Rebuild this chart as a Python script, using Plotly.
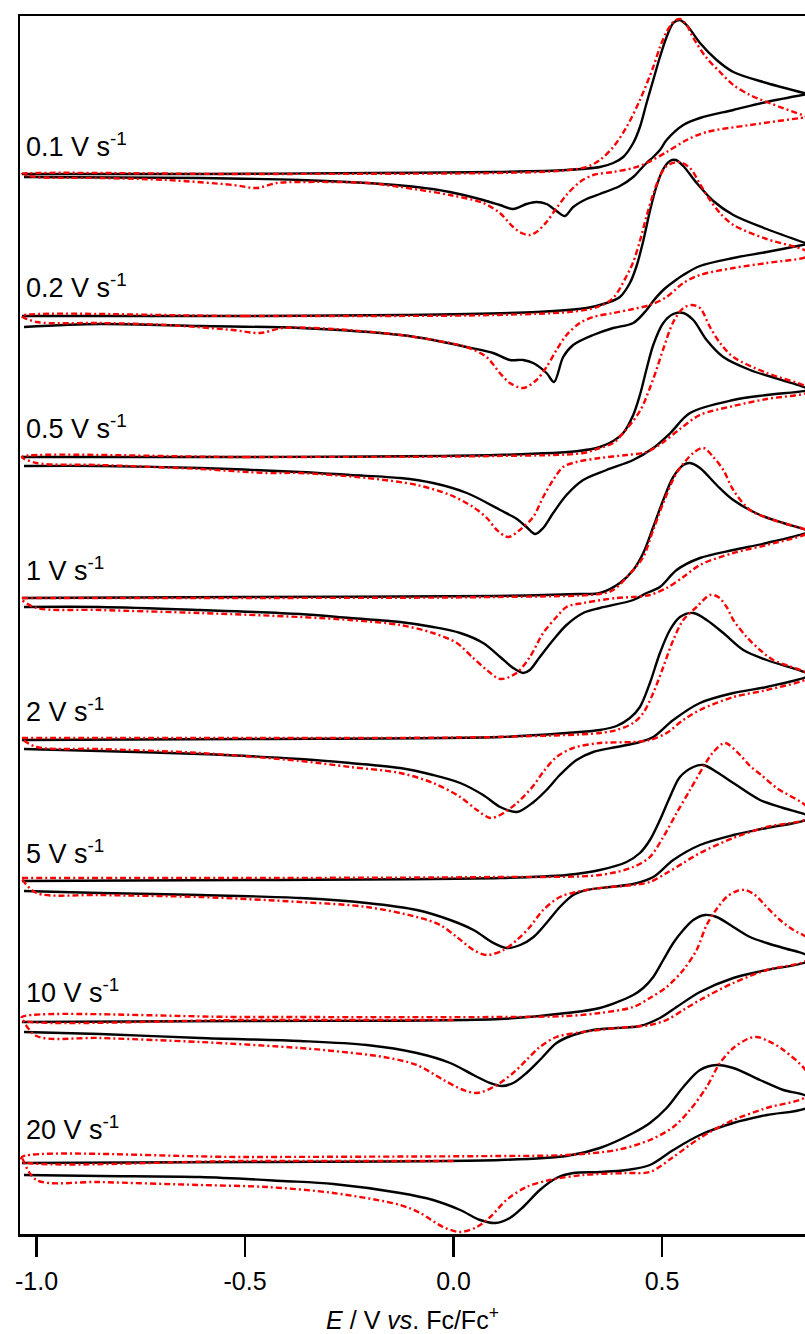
import plotly.graph_objects as go

# ---------------- data (E in V vs Fc/Fc+, current in arbitrary units above each baseline) ----------
scan_rates = ["0.1", "0.2", "0.5", "1", "2", "5", "10", "20"]
offsets = [1060, 918, 777, 636, 494, 352, 211, 70]

# experimental (black) : forward (anodic) and reverse (cathodic) branches as [E, I] pairs
exp_0p1_fwd = [[-1.035,0],[-0.6,0],[-0.2,1],[0.1,2],[0.271,4],[0.351,7],[0.383,11],[0.407,17],[0.431,31],[0.447,47],[0.463,71],[0.479,94],[0.495,117],[0.511,137],[0.527,151],[0.542,154],[0.559,149],[0.591,131],[0.631,114],[0.671,102],[0.751,91],[0.85,80]]
exp_0p1_rev = [[0.85,80],[0.751,72],[0.671,64],[0.591,56],[0.551,49],[0.511,34],[0.495,24],[0.479,17],[0.463,11],[0.447,4],[0.431,-3],[0.399,-12],[0.351,-20],[0.319,-25],[0.287,-33],[0.267,-42],[0.247,-37],[0.223,-30],[0.199,-28],[0.175,-30],[0.143,-35],[0.111,-31],[0.071,-26],[-0.009,-18],[-0.089,-13],[-0.207,-9],[-0.368,-6],[-0.608,-4],[-1.03,-3]]
exp_0p2_fwd = [[-1.035,0],[-0.5,0],[-0.127,1],[0.2,4],[0.319,8],[0.367,13],[0.399,19],[0.423,33],[0.439,50],[0.455,75],[0.471,105],[0.487,130],[0.503,147],[0.519,155],[0.533,156],[0.551,150],[0.583,133],[0.623,115],[0.671,101],[0.751,87],[0.85,72]]
exp_0p2_rev = [[0.85,72],[0.751,64],[0.671,58],[0.591,50],[0.551,41],[0.527,34],[0.503,26],[0.479,15],[0.463,6],[0.431,-7],[0.383,-12],[0.335,-19],[0.287,-29],[0.263,-41],[0.241,-66],[0.223,-57],[0.191,-47],[0.167,-44],[0.135,-44],[0.095,-37],[0.031,-31],[-0.049,-24],[-0.127,-19],[-0.368,-12],[-0.608,-10],[-0.848,-8],[-1.03,-11]]
exp_0p5_fwd = [[-1.035,0],[-0.5,0],[0.1,2],[0.3,6],[0.351,10],[0.383,16],[0.407,24],[0.431,42],[0.447,62],[0.463,88],[0.479,112],[0.503,134],[0.527,143],[0.551,144],[0.575,137],[0.607,117],[0.647,100],[0.711,87],[0.85,68]]
exp_0p5_rev = [[0.85,67],[0.751,62],[0.671,57],[0.567,44],[0.52,24],[0.479,9],[0.431,-3],[0.367,-13],[0.311,-23],[0.271,-38],[0.239,-56],[0.215,-71],[0.196,-77],[0.175,-70],[0.152,-62],[0.112,-53],[0.032,-36],[-0.049,-26],[-0.128,-21],[-0.248,-18],[-0.368,-15],[-0.608,-11],[-0.848,-9],[-1.03,-9]]
exp_1_fwd = [[-1.035,0],[-0.5,1],[0.1,2],[0.3,4],[0.351,5],[0.399,15],[0.431,28],[0.455,45],[0.479,71],[0.503,98],[0.527,121],[0.551,133],[0.567,135],[0.591,130],[0.631,113],[0.671,98],[0.735,83],[0.791,75],[0.85,67]]
exp_1_rev = [[0.85,66],[0.751,55],[0.671,48],[0.591,40],[0.535,28],[0.495,11],[0.463,5],[0.431,-2],[0.351,-10],[0.311,-15],[0.271,-27],[0.239,-42],[0.207,-59],[0.183,-72],[0.167,-75],[0.143,-70],[0.112,-59],[0.071,-45],[0.016,-35],[-0.049,-29],[-0.128,-24],[-0.248,-20],[-0.368,-16],[-0.608,-12],[-0.848,-9],[-1.03,-9]]
exp_2_fwd = [[-1.035,0],[-0.5,1],[0.112,3],[0.271,7],[0.351,10],[0.391,14],[0.423,22],[0.447,33],[0.471,57],[0.495,87],[0.519,110],[0.543,123],[0.575,127],[0.607,120],[0.647,107],[0.695,90],[0.751,80],[0.85,66]]
exp_2_rev = [[0.85,64],[0.751,53],[0.671,47],[0.591,37],[0.527,20],[0.479,3],[0.447,-2],[0.391,-7],[0.335,-12],[0.295,-20],[0.255,-35],[0.223,-50],[0.192,-62],[0.152,-72],[0.112,-67],[0.071,-55],[0.016,-43],[-0.049,-35],[-0.128,-28],[-0.248,-23],[-0.368,-19],[-0.608,-14],[-0.848,-11],[-1.03,-9]]
exp_5_fwd = [[-1.035,1],[-0.5,2],[0.112,4],[0.271,7],[0.351,12],[0.415,20],[0.447,29],[0.471,42],[0.495,62],[0.519,85],[0.543,105],[0.575,115],[0.599,117],[0.631,110],[0.671,99],[0.735,82],[0.791,74],[0.85,66]]
exp_5_rev = [[0.85,63],[0.751,54],[0.671,47],[0.591,37],[0.527,22],[0.479,5],[0.431,-2],[0.375,-5],[0.319,-8],[0.287,-13],[0.255,-25],[0.223,-41],[0.192,-55],[0.16,-63],[0.128,-66],[0.096,-61],[0.048,-48],[-0.008,-38],[-0.088,-28],[-0.208,-21],[-0.368,-16],[-0.608,-13],[-0.848,-11],[-1.03,-9]]
exp_10_fwd = [[-1.035,1],[-0.5,2],[0.112,4],[0.271,10],[0.351,15],[0.431,28],[0.455,35],[0.479,46],[0.503,63],[0.527,80],[0.551,93],[0.575,103],[0.603,108],[0.631,106],[0.671,96],[0.711,86],[0.751,80],[0.791,75],[0.85,67]]
exp_10_rev = [[0.85,62],[0.751,53],[0.671,45],[0.591,31],[0.535,16],[0.495,5],[0.447,-3],[0.391,-5],[0.335,-7],[0.287,-12],[0.247,-20],[0.207,-37],[0.175,-50],[0.143,-60],[0.116,-63],[0.088,-60],[0.048,-52],[-0.008,-40],[-0.088,-30],[-0.208,-22],[-0.368,-18],[-0.608,-15],[-0.848,-11],[-1.03,-9]]
exp_20_fwd = [[-1.035,1],[-0.5,2],[0.112,4],[0.271,8],[0.351,16],[0.431,31],[0.471,41],[0.511,56],[0.551,77],[0.591,94],[0.631,99],[0.671,96],[0.735,84],[0.791,74],[0.85,67]]
exp_20_rev = [[0.85,57],[0.751,49],[0.671,41],[0.591,29],[0.527,14],[0.471,-1],[0.415,-6],[0.351,-8],[0.287,-9],[0.247,-14],[0.207,-26],[0.167,-43],[0.135,-54],[0.1,-59],[0.064,-56],[0.016,-46],[-0.049,-36],[-0.128,-29],[-0.288,-20],[-0.408,-17],[-0.608,-13],[-0.848,-12],[-1.03,-11]]

# simulated (red dash-dot)
sim_0p1_fwd = [[-1.035,0],[-0.5,0],[0.1,1],[0.25,3],[0.319,7],[0.351,14],[0.383,27],[0.415,47],[0.447,74],[0.479,107],[0.495,127],[0.511,142],[0.527,152],[0.543,155],[0.559,149],[0.575,136],[0.607,116],[0.639,102],[0.671,89],[0.711,79],[0.751,72],[0.85,57]]
sim_0p1_rev = [[0.85,57],[0.711,49],[0.607,42],[0.559,34],[0.511,22],[0.463,11],[0.431,6],[0.383,2],[0.335,-1],[0.303,-8],[0.271,-21],[0.247,-34],[0.223,-48],[0.199,-58],[0.183,-61],[0.163,-59],[0.143,-53],[0.111,-39],[0.071,-29],[-0.009,-21],[-0.128,-13],[-0.207,-9],[-0.368,-8],[-0.424,-9],[-0.472,-14],[-0.529,-11],[-0.688,-6],[-0.848,-4],[-1.0,-3],[-1.035,0]]
sim_0p2_fwd = [[-1.035,0],[-0.5,0],[0.1,1],[0.3,5],[0.351,10],[0.383,18],[0.415,40],[0.431,54],[0.447,75],[0.463,100],[0.479,122],[0.495,140],[0.511,150],[0.54,154],[0.567,148],[0.591,132],[0.615,116],[0.639,103],[0.671,91],[0.751,77],[0.85,64]]
sim_0p2_rev = [[0.85,60],[0.751,53],[0.671,48],[0.591,41],[0.551,33],[0.511,19],[0.471,11],[0.431,7],[0.383,3],[0.335,-1],[0.303,-7],[0.271,-19],[0.247,-34],[0.223,-51],[0.199,-64],[0.167,-72],[0.135,-67],[0.111,-57],[0.079,-41],[0.031,-31],[-0.049,-24],[-0.127,-19],[-0.288,-13],[-0.408,-12],[-0.464,-17],[-0.529,-14],[-0.688,-9],[-0.848,-7],[-1.0,-6],[-1.035,0]]
sim_0p5_fwd = [[-1.035,0],[-0.5,0],[0.1,1],[0.311,4],[0.351,9],[0.383,14],[0.407,24],[0.447,46],[0.479,78],[0.503,108],[0.527,135],[0.551,149],[0.571,152],[0.591,149],[0.615,130],[0.639,114],[0.671,100],[0.751,84],[0.85,69]]
sim_0p5_rev = [[0.85,65],[0.751,58],[0.671,51],[0.591,42],[0.543,28],[0.5,14],[0.463,5],[0.415,2],[0.351,-1],[0.295,-5],[0.263,-10],[0.239,-23],[0.215,-40],[0.191,-60],[0.159,-73],[0.131,-80],[0.104,-73],[0.08,-61],[0.047,-50],[-0.008,-38],[-0.088,-28],[-0.208,-21],[-0.368,-16],[-0.448,-16],[-0.608,-12],[-0.848,-8],[-1.0,-6],[-1.035,0]]
sim_1_fwd = [[-1.035,0],[-0.5,0],[0.1,1],[0.35,4],[0.383,8],[0.431,28],[0.455,41],[0.479,68],[0.503,95],[0.535,125],[0.575,145],[0.599,150],[0.623,141],[0.647,128],[0.671,108],[0.711,88],[0.767,78],[0.85,67]]
sim_1_rev = [[0.85,65],[0.751,53],[0.671,45],[0.591,33],[0.551,21],[0.511,10],[0.471,3],[0.431,1],[0.391,0],[0.311,-5],[0.271,-9],[0.247,-19],[0.215,-35],[0.183,-59],[0.151,-75],[0.112,-81],[0.08,-72],[0.047,-60],[0.008,-45],[-0.049,-35],[-0.128,-27],[-0.248,-22],[-0.368,-19],[-0.608,-15],[-0.848,-12],[-1.0,-10],[-1.035,-2]]
sim_2_fwd = [[-1.035,2],[-0.5,2],[0.1,3],[0.351,7],[0.391,10],[0.431,17],[0.455,27],[0.479,47],[0.503,73],[0.527,100],[0.551,120],[0.583,133],[0.615,145],[0.635,143],[0.655,133],[0.671,120],[0.703,103],[0.735,90],[0.767,80],[0.85,66]]
sim_2_rev = [[0.85,62],[0.751,50],[0.671,43],[0.591,30],[0.551,20],[0.511,7],[0.471,0],[0.431,-2],[0.351,-3],[0.287,-8],[0.247,-17],[0.215,-32],[0.191,-46],[0.152,-63],[0.112,-75],[0.088,-78],[0.056,-70],[0.016,-57],[-0.049,-43],[-0.128,-33],[-0.248,-27],[-0.368,-21],[-0.608,-13],[-0.848,-9],[-1.0,-7],[-1.035,1]]
sim_5_fwd = [[-1.035,4],[-0.5,4],[0.1,5],[0.351,7],[0.431,15],[0.471,25],[0.503,45],[0.535,69],[0.567,92],[0.599,115],[0.623,130],[0.651,139],[0.687,127],[0.711,116],[0.735,108],[0.775,94],[0.85,74]]
sim_5_rev = [[0.85,64],[0.751,55],[0.671,44],[0.591,29],[0.551,19],[0.511,9],[0.471,0],[0.431,-3],[0.351,-6],[0.295,-10],[0.255,-15],[0.215,-28],[0.183,-45],[0.152,-58],[0.12,-68],[0.08,-73],[0.048,-68],[0.008,-55],[-0.032,-43],[-0.088,-35],[-0.208,-25],[-0.368,-20],[-0.608,-15],[-0.848,-13],[-1.0,-11],[-1.035,3]]
sim_10_init = [[0.0,3],[-0.5,3],[-1.035,3]]
sim_10_fwd = [[-1.035,6],[-0.5,6],[0.112,6],[0.271,7],[0.351,10],[0.431,16],[0.471,25],[0.511,36],[0.551,53],[0.583,73],[0.607,98],[0.631,114],[0.655,126],[0.68,132],[0.7,133],[0.723,128],[0.751,116],[0.783,103],[0.815,93],[0.85,84]]
sim_10_rev = [[0.85,64],[0.751,53],[0.671,40],[0.591,23],[0.551,13],[0.511,3],[0.471,-2],[0.391,-5],[0.311,-9],[0.247,-14],[0.207,-24],[0.175,-37],[0.143,-50],[0.096,-64],[0.056,-70],[0.024,-67],[-0.024,-57],[-0.088,-42],[-0.168,-34],[-0.288,-28],[-0.368,-25],[-0.608,-19],[-0.848,-15],[-1.0,-13],[-1.035,5]]
sim_20_init = [[0.0,3],[-0.5,3],[-1.035,3]]
sim_20_fwd = [[-1.035,7],[-0.5,7],[0.112,8],[0.271,9],[0.391,14],[0.471,24],[0.527,37],[0.567,54],[0.607,77],[0.639,101],[0.671,116],[0.705,125],[0.727,127],[0.755,123],[0.791,114],[0.85,90]]
sim_20_rev = [[0.85,69],[0.751,56],[0.671,44],[0.591,26],[0.527,7],[0.471,-8],[0.415,-9],[0.311,-11],[0.231,-16],[0.175,-23],[0.127,-36],[0.088,-53],[0.056,-63],[0.016,-68],[-0.025,-63],[-0.08,-49],[-0.128,-41],[-0.288,-29],[-0.448,-23],[-0.608,-21],[-0.848,-18],[-1.0,-16],[-1.035,7]]

tick_vals = [-1.0, -0.5, 0.0, 0.5]
tick_text = ["-1.0", "-0.5", "0.0", "0.5"]

exp_curves = [
    [exp_0p1_fwd, exp_0p1_rev], [exp_0p2_fwd, exp_0p2_rev], [exp_0p5_fwd, exp_0p5_rev],
    [exp_1_fwd, exp_1_rev], [exp_2_fwd, exp_2_rev], [exp_5_fwd, exp_5_rev],
    [exp_10_fwd, exp_10_rev], [exp_20_fwd, exp_20_rev],
]
sim_curves = [
    [sim_0p1_fwd, sim_0p1_rev], [sim_0p2_fwd, sim_0p2_rev], [sim_0p5_fwd, sim_0p5_rev],
    [sim_1_fwd, sim_1_rev], [sim_2_fwd, sim_2_rev], [sim_5_fwd, sim_5_rev],
    [sim_10_init, sim_10_fwd, sim_10_rev], [sim_20_init, sim_20_fwd, sim_20_rev],
]

# ---------------- styling ----------------
FONT = "Liberation Sans, Arial, Helvetica, sans-serif"
label_lift = [29, 30, 30, 29, 30, 30, 32, 36]

fig = go.Figure()


def add_curve(parts, base, color, dash):
    xs, ys = [], []
    for seg in parts:
        xs += [p[0] for p in seg]
        ys += [base + p[1] for p in seg]
    fig.add_trace(go.Scatter(
        x=xs, y=ys, mode="lines",
        line=dict(color=color, width=2.4, dash=dash, shape="spline", smoothing=0.9),
        showlegend=False, hoverinfo="skip", cliponaxis=True,
    ))


for parts, base in zip(exp_curves, offsets):
    add_curve(parts, base, "black", "solid")
for parts, base in zip(sim_curves, offsets):
    add_curve(parts, base, "#ff0000", "6px,3px,2px,3px")

for rate, base, lift in zip(scan_rates, offsets, label_lift):
    fig.add_annotation(
        x=-1.031, y=base + lift, xref="x", yref="y",
        text=f"{rate} V s<sup>-1</sup>", showarrow=False,
        xanchor="left", yanchor="middle",
        font=dict(family=FONT, size=27, color="black"),
    )

fig.update_layout(
    width=805, height=1334,
    margin=dict(l=20, r=0, t=16, b=100, autoexpand=False),
    paper_bgcolor="white", plot_bgcolor="white",
    showlegend=False, hovermode=False,
    font=dict(family=FONT, color="black"),
    xaxis=dict(
        range=[-1.0396, 0.8429],
        tickvals=tick_vals, ticktext=tick_text,
        ticks="outside", ticklen=20, tickwidth=2.5, tickcolor="black",
        ticklabelstandoff=3, automargin=False,
        showline=True, linewidth=2.5, linecolor="black", mirror=True,
        showgrid=False, zeroline=False,
        tickfont=dict(family=FONT, size=25, color="black"),
        title=dict(text="<i>E</i> / V <i>vs</i>. Fc/Fc<sup>+</sup>",
                   font=dict(family=FONT, size=25, color="black"), standoff=20),
    ),
    yaxis=dict(
        range=[0, 1218], automargin=False,
        showticklabels=False, ticks="",
        showline=True, linewidth=2.5, linecolor="black", mirror=False,
        showgrid=False, zeroline=False,
    ),
)

# remove the browser's default 8 px page margin so the figure fills the window exactly
fig.write_html(
    "out.html",
    config={"displayModeBar": False, "staticPlot": True},
    post_script="document.body.style.margin='0px';",
)
